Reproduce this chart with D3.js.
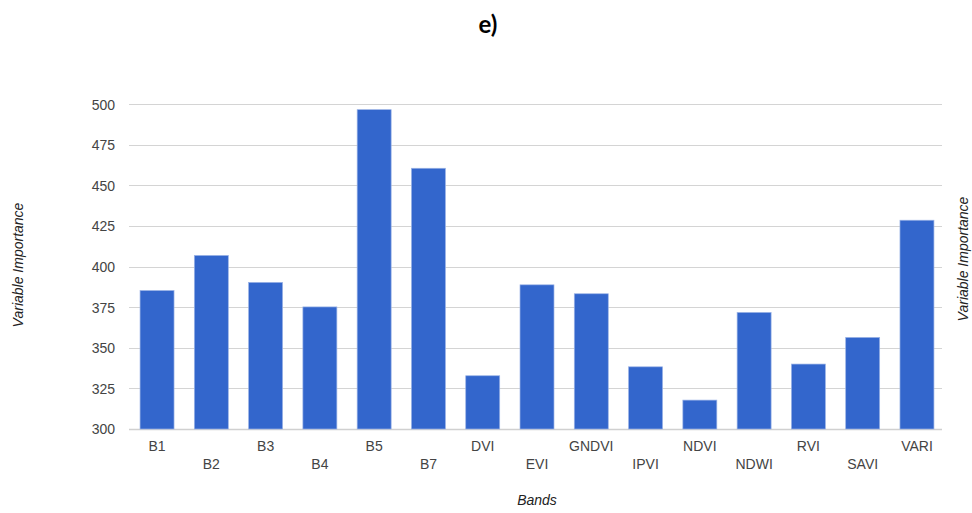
<!DOCTYPE html>
<html><head><meta charset="utf-8">
<script src="https://cdn.jsdelivr.net/npm/d3@7"></script>
<style>body{margin:0;background:#fff}svg{display:block}</style>
</head><body>
<script>
const categories = ["B1","B2","B3","B4","B5","B7","DVI","EVI","GNDVI","IPVI","NDVI","NDWI","RVI","SAVI","VARI"];
const values = [385.3,406.9,390.3,375.2,496.7,460.6,332.8,388.8,383.3,338.3,317.8,371.8,340.0,356.4,428.6];
const yTicks = [300,325,350,375,400,425,450,475,500];
const title = "e)";
const xTitle = "Bands";
const yTitle = "Variable Importance";

(function(){
const W = 972, H = 513;
const svg = d3.select("body").append("svg").attr("width", W).attr("height", H);
const pL = 129, pR = 942, pT = 104.3, pB = 429;
const font = "Liberation Sans, Arial, sans-serif";

const x = d3.scaleBand().domain(categories).range([129.9, 944.1]).paddingInner(0.374).paddingOuter(0.187);
const y = d3.scaleLinear().domain([300, 500]).range([pB, pT]);

// gridlines
svg.append("g").selectAll("line").data(yTicks).join("line")
  .attr("x1", pL).attr("x2", pR)
  .attr("y1", d => Math.round(y(d)) + 0.5).attr("y2", d => Math.round(y(d)) + 0.5)
  .attr("stroke", d => d === 300 ? "#d0d0d0" : "#d4d4d4").attr("stroke-width", d => d === 300 ? 1.5 : 1);

// y axis labels
const yAxis = d3.axisLeft(y).tickValues(yTicks).tickSize(0).tickPadding(0);
const ga = svg.append("g").attr("transform", `translate(115,0)`).call(yAxis);
ga.select(".domain").remove();
ga.selectAll("text").attr("font-family", font).attr("font-size", 14).attr("fill", "#444").attr("dy", "0.35em");

// bars
svg.append("g").selectAll("rect").data(values).join("rect")
  .attr("x", (d, i) => x(categories[i]))
  .attr("y", d => y(d))
  .attr("width", x.bandwidth())
  .attr("height", d => pB - y(d))
  .attr("fill", "#3366cc")
  .attr("stroke", "#9bb3e6").attr("stroke-width", 0.7);

// x labels (alternating rows)
const xAxis = d3.axisBottom(x).tickSize(0).tickPadding(0);
const gx = svg.append("g").attr("transform", `translate(0,${pB})`).call(xAxis);
gx.select(".domain").remove();
gx.selectAll("text")
  .attr("font-family", font).attr("font-size", 14).attr("fill", "#444")
  .attr("dy", null)
  .attr("y", (d, i) => i % 2 === 0 ? 21.5 : 39.5);

// titles
svg.append("text").attr("x", 488).attr("y", 33).attr("text-anchor", "middle")
  .attr("font-family", "Lato, 'Open Sans', sans-serif").attr("font-weight", "bold").attr("font-size", 24).attr("fill", "#000").text(title);

svg.append("text").attr("x", 537).attr("y", 505).attr("text-anchor", "middle")
  .attr("font-family", font).attr("font-style", "italic").attr("font-size", 14).attr("fill", "#222").text(xTitle);

svg.append("text").attr("transform", "translate(23,265) rotate(-90)").attr("text-anchor", "middle")
  .attr("font-family", font).attr("font-style", "italic").attr("font-size", 14).attr("fill", "#222").text(yTitle);

svg.append("text").attr("transform", "translate(968,259) rotate(-90)").attr("text-anchor", "middle")
  .attr("font-family", font).attr("font-style", "italic").attr("font-size", 14).attr("fill", "#222").text(yTitle);
})();
</script>
</body></html>
